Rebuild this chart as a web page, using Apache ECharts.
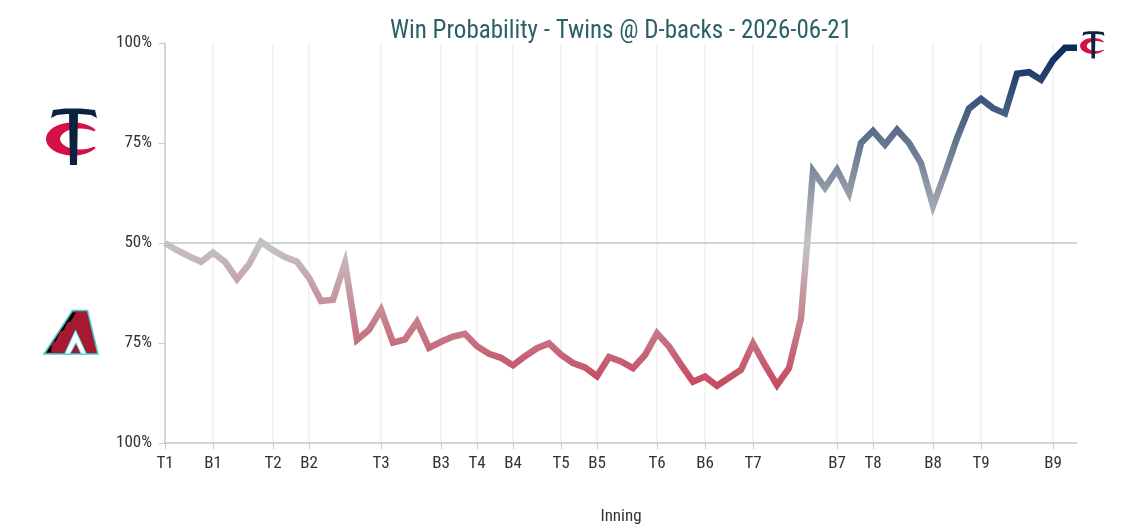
<!DOCTYPE html>
<html>
<head>
<meta charset="utf-8">
<script src="https://cdn.jsdelivr.net/npm/echarts@6/dist/echarts.min.js"></script>
<style>
  html, body { margin: 0; padding: 0; background: #ffffff; }
  #chart { width: 1142px; height: 532px; }
</style>
</head>
<body>
<div id="chart"></div>
<script>
// Twins win probability after each play (percent)
const winProb = [50, 48.2, 46.7, 45.3, 47.6, 45.3, 41, 44.7, 50.3, 48.2,
  46.5, 45.3, 41.3, 35.5, 35.8, 45, 25.8, 28.3, 33.3, 25.1,
  25.9, 30.3, 23.8, 25.3, 26.6, 27.3, 24.2, 22.3, 21.3, 19.4,
  21.7, 23.7, 24.9, 22.1, 20, 18.9, 16.7, 21.5, 20.4, 18.7,
  22, 27.4, 24.1, 19.6, 15.3, 16.6, 14.3, 16.3, 18.3, 24.9,
  19.5, 14.5, 18.7, 31.2, 68, 63.8, 68.3, 62.5, 75, 78,
  74.6, 78.3, 75, 70, 59.3, 67.5, 76.2, 83.6, 86, 83.7,
  82.4, 92.3, 92.7, 90.8, 95.7, 98.8, 98.8];
// play index at which each half-inning starts
const tickIdx = [0, 4, 9, 12, 18, 23, 26, 29, 33, 36, 41, 45, 49, 56, 59, 64, 68, 74];
const tickLabels = ['T1', 'B1', 'T2', 'B2', 'T3', 'B3', 'T4', 'B4', 'T5', 'B5', 'T6', 'B6', 'T7', 'B7', 'T8', 'B8', 'T9', 'B9'];
const yTicks = [0, 25, 50, 75, 100];
const yTickLabels = ['100%', '75%', '50%', '75%', '100%'];
const titleText = 'Win Probability - Twins @ D-backs - 2026-06-21';

const plays = winProb.map((_, i) => String(i));
const labelMap = {};
tickIdx.forEach((idx, k) => { labelMap[idx] = tickLabels[k]; });
const tickSet = new Set(tickIdx);

const FONT = "'Roboto Condensed', 'Liberation Sans Narrow', 'DejaVu Sans Condensed', Roboto, sans-serif";
const NAVY = '#0c2340';
const TRED = '#d31145';

function twinsLogo(cx, cy, s) {
  // approximate Twins "TC" logo built from shapes; C centered at (cx, cy)
  const p = (x, y) => [cx + x * s, cy + y * s];
  return {
    type: 'group',
    silent: true,
    children: [
      { type: 'ellipse', shape: { cx: cx, cy: cy, rx: 27 * s, ry: 16.5 * s }, style: { fill: TRED } },
      { type: 'ellipse', shape: { cx: cx + 7 * s, cy: cy, rx: 20 * s, ry: 10.5 * s }, style: { fill: '#fff' } },
      { type: 'polygon', shape: { points: [p(12, 0), p(30, -15), p(30, 15)] }, style: { fill: '#fff' } },
      { type: 'polygon', shape: { points: [p(-22, -21), p(-20, -29), p(-8, -30.5), p(8, -30.5), p(22, -29), p(24, -21), p(18, -24), p(6, -25), p(-6, -25), p(-16, -24)] }, style: { fill: NAVY } },
      { type: 'polygon', shape: { points: [p(-4, -26), p(5, -26), p(4, 26), p(-3, 26)] }, style: { fill: NAVY } }
    ]
  };
}

function dbacksLogo() {
  return {
    type: 'group',
    silent: true,
    children: [
      { type: 'polygon', shape: { points: [[44, 354], [72.5, 310.5], [87.5, 310.5], [98, 354]] },
        style: { fill: '#a71930', stroke: '#3fd0d4', lineWidth: 1.5 } },
      { type: 'polygon', shape: { points: [[46.5, 352.5], [72.5, 312.5], [76, 312.5], [71, 321], [67, 323], [64, 330], [60, 332], [56, 341], [52, 343], [51, 352.5]] },
        style: { fill: '#000' } },
      { type: 'polygon', shape: { points: [[64.5, 354], [75.5, 330], [86.5, 354], [81, 354], [76, 343], [70, 354]] },
        style: { fill: '#fff', stroke: '#3fd0d4', lineWidth: 1 } }
    ]
  };
}

const chart = echarts.init(document.getElementById('chart'), null, { renderer: 'canvas' });
chart.setOption({
  animation: false,
  backgroundColor: '#ffffff',
  textStyle: { fontFamily: FONT },
  grid: { left: 165, width: 912, top: 43, height: 400, containLabel: false },
  xAxis: {
    type: 'category',
    data: plays,
    boundaryGap: false,
    name: 'Inning',
    nameLocation: 'middle',
    nameGap: 65,
    nameTextStyle: { color: '#333', fontSize: 17, fontFamily: FONT },
    axisLine: { lineStyle: { color: '#c8c8c8', width: 1.5 } },
    axisTick: { show: true, length: 6, interval: (i) => tickSet.has(i), lineStyle: { color: '#c8c8c8' } },
    axisLabel: {
      interval: 0,
      color: '#333',
      fontSize: 17,
      margin: 12,
      fontFamily: FONT,
      formatter: (v, i) => labelMap[i] || ''
    },
    splitLine: { show: true, interval: (i) => tickSet.has(i) && i !== 0, lineStyle: { color: '#f1f1f1', width: 1.5 } }
  },
  yAxis: {
    type: 'value',
    min: 0,
    max: 100,
    interval: 25,
    axisLine: { show: true, lineStyle: { color: '#c8c8c8', width: 1.5 } },
    axisTick: { show: true, length: 6, lineStyle: { color: '#c8c8c8' } },
    splitLine: { show: false },
    axisLabel: {
      color: '#333',
      fontSize: 17,
      margin: 13,
      fontFamily: FONT,
      formatter: (v) => yTickLabels[yTicks.indexOf(v)]
    }
  },
  visualMap: {
    type: 'continuous',
    show: false,
    dimension: 1,
    seriesIndex: 0,
    min: 0,
    max: 100,
    inRange: { color: ['#c8193a', '#c4c4c4', '#06285c'] }
  },
  series: [{
    type: 'line',
    data: winProb,
    showSymbol: false,
    symbol: 'none',
    lineStyle: { width: 6.5, join: 'miter' },
    silent: true,
    z: 3,
    markLine: {
      silent: true,
      symbol: 'none',
      label: { show: false },
      lineStyle: { color: '#c4c4c4', width: 1.5, type: 'solid' },
      data: [{ yAxis: 50 }],
      z: 1
    }
  }],
  graphic: [
    { type: 'text', x: 621, y: 32, silent: true,
      style: { text: titleText, align: 'center', verticalAlign: 'middle', fontSize: 25, fontFamily: FONT, fill: '#2b6165' } },
    twinsLogo(73, 139, 1),
    twinsLogo(1093, 46, 0.48),
    dbacksLogo()
  ]
});
</script>
</body>
</html>
